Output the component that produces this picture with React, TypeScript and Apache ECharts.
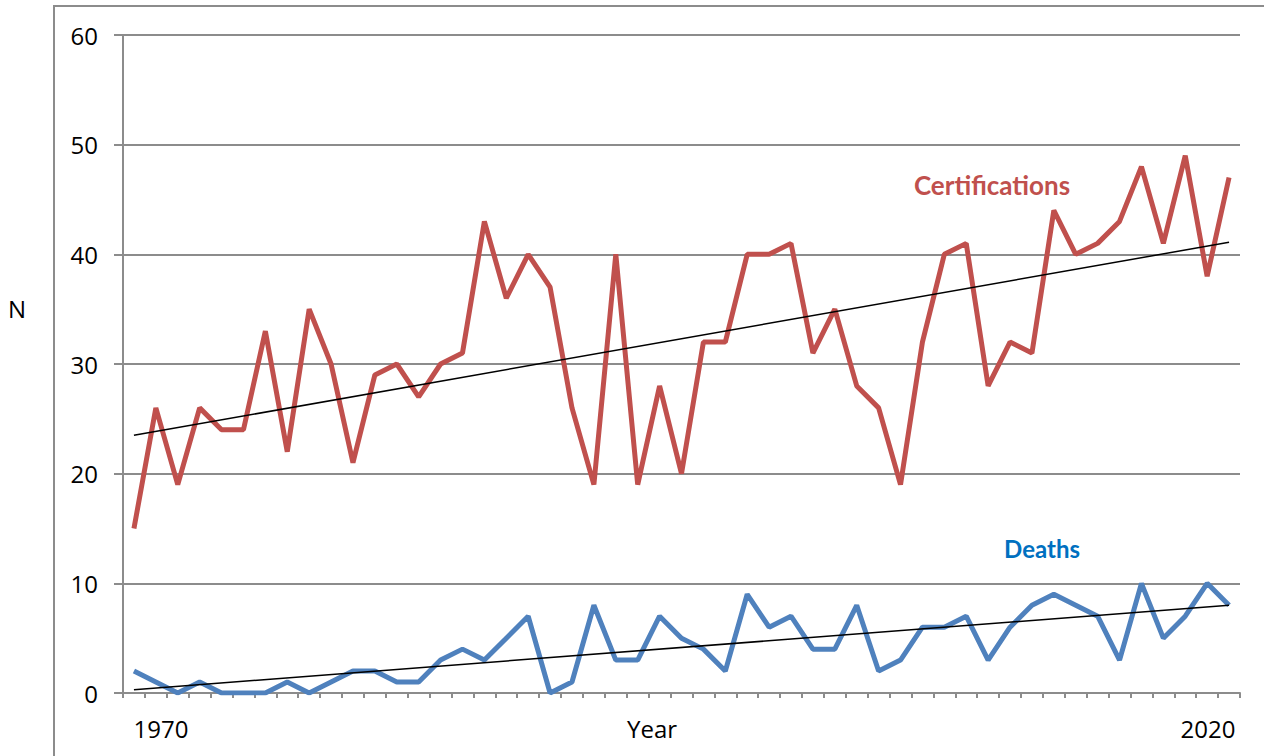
import React, { useEffect, useRef } from "react";
import * as echarts from "echarts";

const years: string[] = [];
for (let y = 1970; y <= 2020; y++) years.push(String(y));

const certifications = [
  15, 26, 19, 26, 24, 24, 33, 22, 35, 30,
  21, 29, 30, 27, 30, 31, 43, 36, 40, 37,
  26, 19, 40, 19, 28, 20, 32, 32, 40, 40,
  41, 31, 35, 28, 26, 19, 32, 40, 41, 28,
  32, 31, 44, 40, 41, 43, 48, 41, 49, 38,
  47,
];

const deaths = [
  2, 1, 0, 1, 0, 0, 0, 1, 0, 1,
  2, 2, 1, 1, 3, 4, 3, 5, 7, 0,
  1, 8, 3, 3, 7, 5, 4, 2, 9, 6,
  7, 4, 4, 8, 2, 3, 6, 6, 7, 3,
  6, 8, 9, 8, 7, 3, 10, 5, 7, 10,
  8,
];

// Trend line endpoints
const certTrend = [23.5, 41.1];
const deathTrend = [0.3, 8.0];

const yTicks = [0, 10, 20, 30, 40, 50, 60];

export default function App() {
  const ref = useRef<HTMLDivElement>(null);
  useEffect(() => {
    document.body.style.margin = "0";
    const chart = echarts.init(ref.current!, undefined, { renderer: "svg" });
    const last = years.length - 1;
    chart.setOption({
      animation: false,
      backgroundColor: "#ffffff",
      grid: { left: 123, right: 24, top: 35, bottom: 63, containLabel: false },
      xAxis: {
        type: "category",
        data: years,
        boundaryGap: true,
        axisLine: { lineStyle: { color: "#8c8c8c", width: 2 } },
        axisTick: { show: true, interval: 0, length: 5, lineStyle: { color: "#8c8c8c", width: 2 } },
        axisLabel: { show: false },
        splitLine: { show: false },
      },
      yAxis: {
        type: "value",
        min: yTicks[0],
        max: yTicks[yTicks.length - 1],
        interval: 10,
        axisLine: { show: true, lineStyle: { color: "#8c8c8c", width: 2 } },
        axisTick: { show: true, length: 9, inside: false, lineStyle: { color: "#8c8c8c", width: 2 } },
        axisLabel: { fontFamily: "Open Sans", fontSize: 24, color: "#000", margin: 25 },
        splitLine: { lineStyle: { color: "#8c8c8c", width: 2 } },
      },
      series: [
        {
          type: "line",
          name: "Certifications",
          data: certifications,
          symbol: "none",
          lineStyle: { color: "#C0504D", width: 5 },
          z: 3,
        },
        {
          type: "line",
          name: "Deaths",
          data: deaths,
          symbol: "none",
          lineStyle: { color: "#4F81BD", width: 5 },
          z: 3,
        },
        {
          type: "line",
          name: "Certifications trend",
          data: [[0, certTrend[0]], [last, certTrend[1]]],
          symbol: "none",
          lineStyle: { color: "#000", width: 1.5 },
          z: 4,
        },
        {
          type: "line",
          name: "Deaths trend",
          data: [[0, deathTrend[0]], [last, deathTrend[1]]],
          symbol: "none",
          lineStyle: { color: "#000", width: 1.5 },
          z: 4,
        },
      ],
      graphic: [
        {
          type: "rect",
          shape: { x: 54, y: 6, width: 1400, height: 1000 },
          style: { fill: "none", stroke: "#8c8c8c", lineWidth: 2 },
          z: -1,
        },
        {
          type: "text",
          x: 17, y: 308,
          style: { text: "N", font: '24px "Open Sans"', fill: "#000", align: "center", verticalAlign: "middle" },
        },
        {
          type: "text",
          x: 652, y: 728,
          style: { text: "Year", font: '24px "Open Sans"', fill: "#000", align: "center", verticalAlign: "middle" },
        },
        {
          type: "text",
          x: 161, y: 728,
          style: { text: "1970", font: '24px "Open Sans"', fill: "#000", align: "center", verticalAlign: "middle" },
        },
        {
          type: "text",
          x: 1208, y: 728,
          style: { text: "2020", font: '24px "Open Sans"', fill: "#000", align: "center", verticalAlign: "middle" },
        },
        {
          type: "text",
          x: 992, y: 185,
          style: { text: "Certifications", font: 'bold 26px Lato', fill: "#C0504D", align: "center", verticalAlign: "middle" },
        },
        {
          type: "text",
          x: 1042, y: 548,
          style: { text: "Deaths", font: 'bold 24px Lato', fill: "#0070C0", align: "center", verticalAlign: "middle" },
        },
      ],
    });
    return () => chart.dispose();
  }, []);
  return <div ref={ref} style={{ width: 1264, height: 756 }} />;
}
